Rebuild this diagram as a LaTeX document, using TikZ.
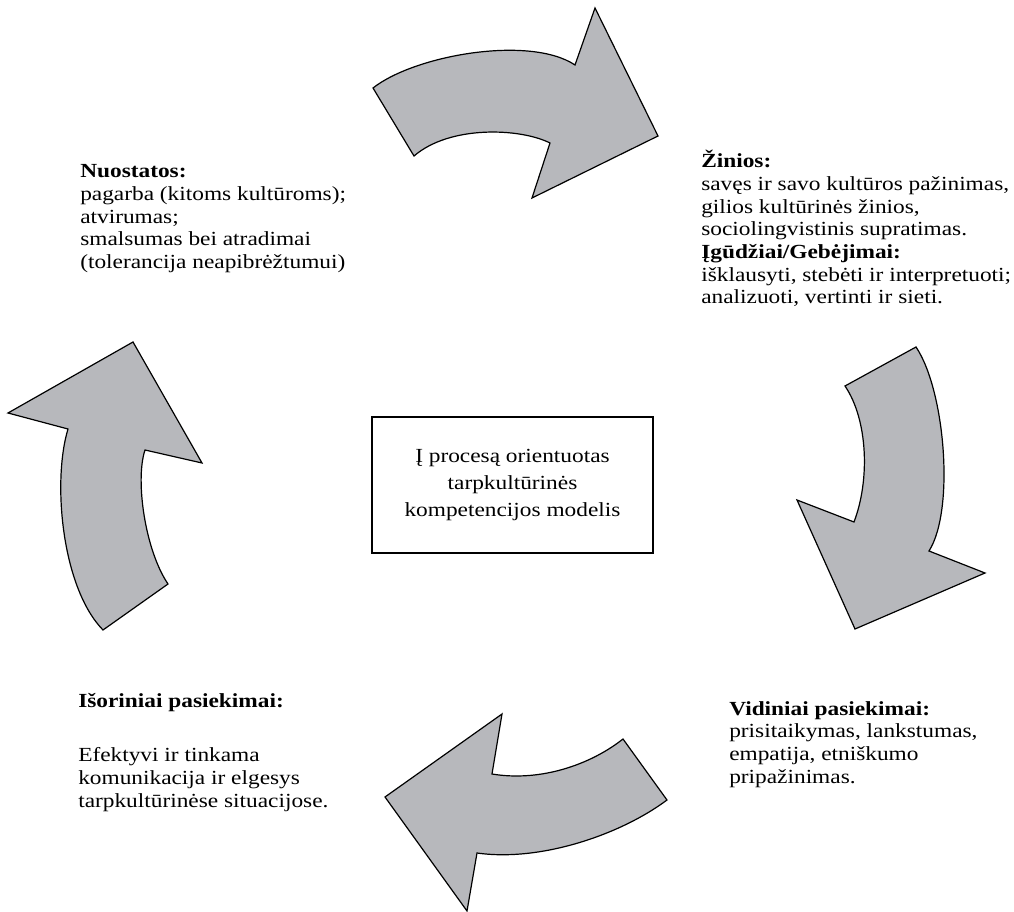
\documentclass[tikz,border=0pt]{standalone}
\usepackage{fontspec}
\setmainfont{Liberation Serif}[FakeStretch=1.167]
\definecolor{arrowgrey}{RGB}{183,184,188}
\begin{document}
\begin{tikzpicture}[x=0.75pt,y=-0.75pt,
  bigarrow/.style={fill=arrowgrey,draw=black,line width=0.9pt,line join=miter},
  % multi-line nodes: the base anchor sits on the last line
  sidetext/.style={anchor=base west,align=left,inner sep=0pt,
    font=\fontsize{15}{17}\selectfont},
  modelbox/.style={draw=black,line width=0.8pt,align=center,inner sep=0pt,
    minimum width=210.75pt,minimum height=102pt,
    font=\fontsize{15}{19.9}\selectfont}]
\useasboundingbox (0,0) rectangle (1014,912);

% top arrow, pointing right
\draw[bigarrow] (373,88) .. controls (415,55) and (530,35) .. (575,65)
  -- (595,8) -- (658,136) -- (532,198) -- (550,143)
  .. controls (520,128) and (450,125) .. (414,156) -- cycle;

% right arrow, pointing down
\draw[bigarrow] (916,347) .. controls (945,390) and (955,510) .. (929,551)
  -- (985,573) -- (855,629) -- (797,500) -- (854,522)
  .. controls (870,480) and (868,420) .. (845,386) -- cycle;

% bottom arrow, pointing left
\draw[bigarrow] (385,797) -- (502,714) -- (492,774)
  .. controls (540,782) and (590,765) .. (623,739) -- (667,800)
  .. controls (620,835) and (540,862) .. (477,853) -- (467,911) -- cycle;

% left arrow, pointing up
\draw[bigarrow] (133,342) -- (202,463) -- (145,450)
  .. controls (135,480) and (145,550) .. (168,584) -- (103,630)
  .. controls (62,588) and (52,482) .. (68,429) -- (8,413) -- cycle;

% centre box
\node[modelbox] (model) at (512.5,485)
  {Į procesą orientuotas\\ tarpkultūrinės\\ kompetencijos modelis};

% texts around the cycle
\node[sidetext] (attitudes) at (80,268.5)
  {\textbf{Nuostatos:}\\ pagarba (kitoms kultūroms);\\ atvirumas;\\
   smalsumas bei atradimai\\ (tolerancija neapibrėžtumui)};

\node[sidetext] (knowledge) at (701,304)
  {\textbf{Žinios:}\\ savęs ir savo kultūros pažinimas,\\ gilios kultūrinės žinios,\\
   sociolingvistinis supratimas.\\ \textbf{Įgūdžiai/Gebėjimai:}\\
   išklausyti, stebėti ir interpretuoti;\\ analizuoti, vertinti ir sieti.};

\node[sidetext] (internal) at (729,783)
  {\textbf{Vidiniai pasiekimai:}\\ prisitaikymas, lankstumas,\\ empatija, etniškumo\\
   pripažinimas.};

\node[sidetext] (external) at (78,807)
  {\textbf{Išoriniai pasiekimai:}\\[23.5pt] Efektyvi ir tinkama\\ komunikacija ir elgesys\\
   tarpkultūrinėse situacijose.};
\end{tikzpicture}
\end{document}
